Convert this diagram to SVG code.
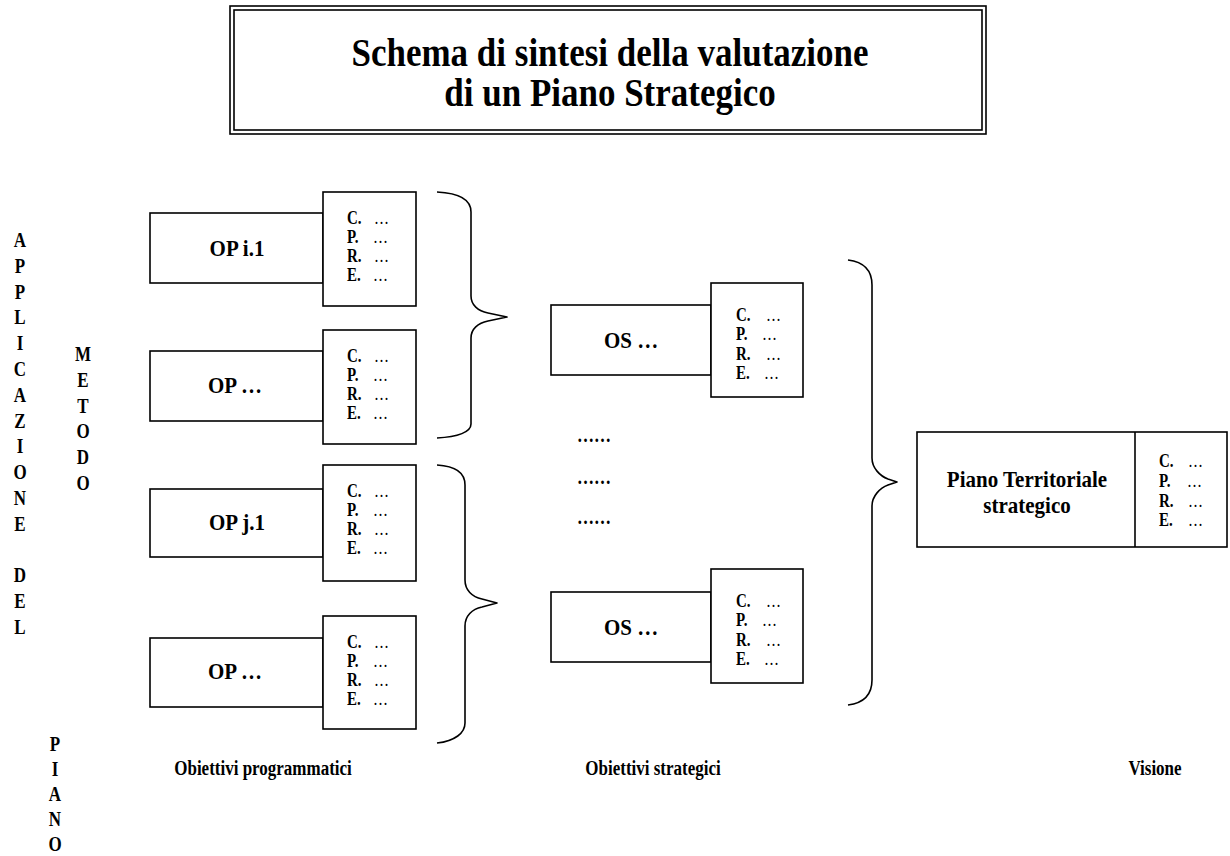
<svg xmlns="http://www.w3.org/2000/svg" width="1230" height="856" viewBox="0 0 1230 856">
  <style>
    .box { fill: #fff; stroke: #000; stroke-width: 1.6; }
    .brace { fill: none; stroke: #000; stroke-width: 1.6; stroke-linejoin: round; }
    text { font-family: "Liberation Serif", "Times New Roman", serif; fill: #000; }
    .title { font-size: 35px; font-weight: bold; text-anchor: middle; }
    .node { font-size: 21px; font-weight: bold; text-anchor: middle; }
    .lbl { font-size: 17px; font-weight: bold; text-anchor: middle; }
    .vert { font-size: 17px; font-weight: bold; text-anchor: middle; }
    .cpre { font-size: 15px; font-weight: bold; }
    .dots { font-weight: normal; }
  </style>

  <!-- title block with double frame; glyphs drawn slightly tall -->
  <g id="title">
    <rect x="230" y="6" width="756" height="128" fill="#fff" stroke="#000" stroke-width="1.6"/>
    <rect x="234" y="10" width="748" height="120" fill="none" stroke="#000" stroke-width="1.6"/>
    <text class="title" transform="translate(610 66) scale(1 1.12)">Schema di sintesi della valutazione</text>
    <text class="title" transform="translate(610 106) scale(1 1.12)">di un Piano Strategico</text>
  </g>

  <!-- vertical side captions (line step 25.8 px after the 1.2 stretch) -->
  <g id="side-applicazione">
    <text class="vert" transform="translate(20 247) scale(1 1.2)">
      <tspan x="0">A</tspan><tspan x="0" dy="21.5">P</tspan><tspan x="0" dy="21.5">P</tspan><tspan x="0" dy="21.5">L</tspan><tspan x="0" dy="21.5">I</tspan><tspan x="0" dy="21.5">C</tspan><tspan x="0" dy="21.5">A</tspan><tspan x="0" dy="21.5">Z</tspan><tspan x="0" dy="21.5">I</tspan><tspan x="0" dy="21.5">O</tspan><tspan x="0" dy="21.5">N</tspan><tspan x="0" dy="21.5">E</tspan><tspan x="0" dy="43">D</tspan><tspan x="0" dy="21.5">E</tspan><tspan x="0" dy="21.5">L</tspan>
    </text>
  </g>
  <g id="side-metodo">
    <text class="vert" transform="translate(83 361) scale(1 1.2)">
      <tspan x="0">M</tspan><tspan x="0" dy="21.5">E</tspan><tspan x="0" dy="21.5">T</tspan><tspan x="0" dy="21.5">O</tspan><tspan x="0" dy="21.5">D</tspan><tspan x="0" dy="21.5">O</tspan>
    </text>
  </g>
  <g id="side-piano">
    <text class="vert" transform="translate(55 751) scale(1 1.2)">
      <tspan x="0">P</tspan><tspan x="0" dy="20.8">I</tspan><tspan x="0" dy="20.8">A</tspan><tspan x="0" dy="20.8">N</tspan><tspan x="0" dy="20.8">O</tspan>
    </text>
  </g>

  <!-- objectives: programmatic -->
  <g id="op-i1">
    <rect class="box" x="150" y="213" width="173" height="70"/>
    <rect class="box" x="323" y="192" width="93" height="114"/>
    <text class="node" transform="translate(237 256) scale(1 1.1)">OP i.1</text>
    <text class="cpre" transform="translate(347 224) scale(1 1.2)">C.<tspan class="dots" x="27">…</tspan></text>
    <text class="cpre" transform="translate(347 243) scale(1 1.2)">P.<tspan class="dots" x="26">…</tspan></text>
    <text class="cpre" transform="translate(347 262) scale(1 1.2)">R.<tspan class="dots" x="27">…</tspan></text>
    <text class="cpre" transform="translate(347 281) scale(1 1.2)">E.<tspan class="dots" x="26">…</tspan></text>
  </g>
  <g id="op-2">
    <rect class="box" x="150" y="351" width="173" height="70"/>
    <rect class="box" x="323" y="330" width="93" height="114"/>
    <text class="node" transform="translate(235 393) scale(1 1.1)">OP …</text>
    <text class="cpre" transform="translate(347 362) scale(1 1.2)">C.<tspan class="dots" x="27">…</tspan></text>
    <text class="cpre" transform="translate(347 381) scale(1 1.2)">P.<tspan class="dots" x="26">…</tspan></text>
    <text class="cpre" transform="translate(347 400) scale(1 1.2)">R.<tspan class="dots" x="27">…</tspan></text>
    <text class="cpre" transform="translate(347 419) scale(1 1.2)">E.<tspan class="dots" x="26">…</tspan></text>
  </g>
  <g id="op-j1">
    <rect class="box" x="150" y="489" width="173" height="68"/>
    <rect class="box" x="323" y="465" width="93" height="116"/>
    <text class="node" transform="translate(237 530) scale(1 1.1)">OP j.1</text>
    <text class="cpre" transform="translate(347 497) scale(1 1.2)">C.<tspan class="dots" x="27">…</tspan></text>
    <text class="cpre" transform="translate(347 516) scale(1 1.2)">P.<tspan class="dots" x="26">…</tspan></text>
    <text class="cpre" transform="translate(347 535) scale(1 1.2)">R.<tspan class="dots" x="27">…</tspan></text>
    <text class="cpre" transform="translate(347 554) scale(1 1.2)">E.<tspan class="dots" x="26">…</tspan></text>
  </g>
  <g id="op-4">
    <rect class="box" x="150" y="638" width="173" height="69"/>
    <rect class="box" x="323" y="616" width="93" height="113"/>
    <text class="node" transform="translate(235 679) scale(1 1.1)">OP …</text>
    <text class="cpre" transform="translate(347 648) scale(1 1.2)">C.<tspan class="dots" x="27">…</tspan></text>
    <text class="cpre" transform="translate(347 667) scale(1 1.2)">P.<tspan class="dots" x="26">…</tspan></text>
    <text class="cpre" transform="translate(347 686) scale(1 1.2)">R.<tspan class="dots" x="27">…</tspan></text>
    <text class="cpre" transform="translate(347 705) scale(1 1.2)">E.<tspan class="dots" x="26">…</tspan></text>
  </g>

  <!-- objectives: strategic -->
  <g id="os-1">
    <rect class="box" x="551" y="305" width="160" height="70"/>
    <rect class="box" x="711" y="283" width="92" height="114"/>
    <text class="node" transform="translate(631 348) scale(1 1.1)">OS …</text>
    <text class="cpre" transform="translate(736 321) scale(1 1.2)">C.<tspan class="dots" x="30">…</tspan></text>
    <text class="cpre" transform="translate(736 340) scale(1 1.2)">P.<tspan class="dots" x="26">…</tspan></text>
    <text class="cpre" transform="translate(736 360) scale(1 1.2)">R.<tspan class="dots" x="30">…</tspan></text>
    <text class="cpre" transform="translate(736 379) scale(1 1.2)">E.<tspan class="dots" x="28">…</tspan></text>
  </g>
  <g id="os-gap">
    <text class="lbl" transform="translate(594 442) scale(1 1.2)">……</text>
    <text class="lbl" transform="translate(594 484) scale(1 1.2)">……</text>
    <text class="lbl" transform="translate(594 524) scale(1 1.2)">……</text>
  </g>
  <g id="os-2">
    <rect class="box" x="551" y="592" width="160" height="70"/>
    <rect class="box" x="711" y="569" width="92" height="114"/>
    <text class="node" transform="translate(631 635) scale(1 1.1)">OS …</text>
    <text class="cpre" transform="translate(736 607) scale(1 1.2)">C.<tspan class="dots" x="30">…</tspan></text>
    <text class="cpre" transform="translate(736 626) scale(1 1.2)">P.<tspan class="dots" x="26">…</tspan></text>
    <text class="cpre" transform="translate(736 646) scale(1 1.2)">R.<tspan class="dots" x="30">…</tspan></text>
    <text class="cpre" transform="translate(736 665) scale(1 1.2)">E.<tspan class="dots" x="28">…</tspan></text>
  </g>

  <!-- vision -->
  <g id="piano">
    <rect class="box" x="917" y="432" width="310" height="115"/>
    <line x1="1135" y1="432" x2="1135" y2="547" stroke="#000" stroke-width="1.6"/>
    <text class="node" transform="translate(1027 487) scale(1 1.1)">Piano Territoriale</text>
    <text class="node" transform="translate(1027 513) scale(1 1.1)">strategico</text>
    <text class="cpre" transform="translate(1159 467) scale(1 1.2)">C.<tspan class="dots" x="29">…</tspan></text>
    <text class="cpre" transform="translate(1159 487) scale(1 1.2)">P.<tspan class="dots" x="28">…</tspan></text>
    <text class="cpre" transform="translate(1159 507) scale(1 1.2)">R.<tspan class="dots" x="29">…</tspan></text>
    <text class="cpre" transform="translate(1159 526) scale(1 1.2)">E.<tspan class="dots" x="29">…</tspan></text>
  </g>

  <!-- grouping braces -->
  <g id="connectors">
    <path class="brace" d="M437,192 C458,193 471,199 471,212 L471,296 C471,305 478,311 488,313 L507,317 L488,321 C478,323 471,329 471,338 L471,424 C471,432 458,437 437,438"/>
    <path class="brace" d="M437,465 C455,466 465,472 465,485 L465,580 C465,590 472,597 482,599 L497,603 L482,607 C472,609 465,616 465,626 L465,723 C465,733 455,741 437,743"/>
    <path class="brace" d="M848,260 C864,262 872,270 872,285 L872,458 C872,468 880,476 888,479 L897,482 L888,485 C880,488 872,496 872,506 L872,680 C872,695 864,703 848,705"/>
  </g>

  <!-- column captions -->
  <g id="captions">
    <text class="lbl" transform="translate(263 775) scale(1 1.2)">Obiettivi programmatici</text>
    <text class="lbl" transform="translate(653 775) scale(1 1.2)">Obiettivi strategici</text>
    <text class="lbl" transform="translate(1155 775) scale(1 1.2)">Visione</text>
  </g>
</svg>
